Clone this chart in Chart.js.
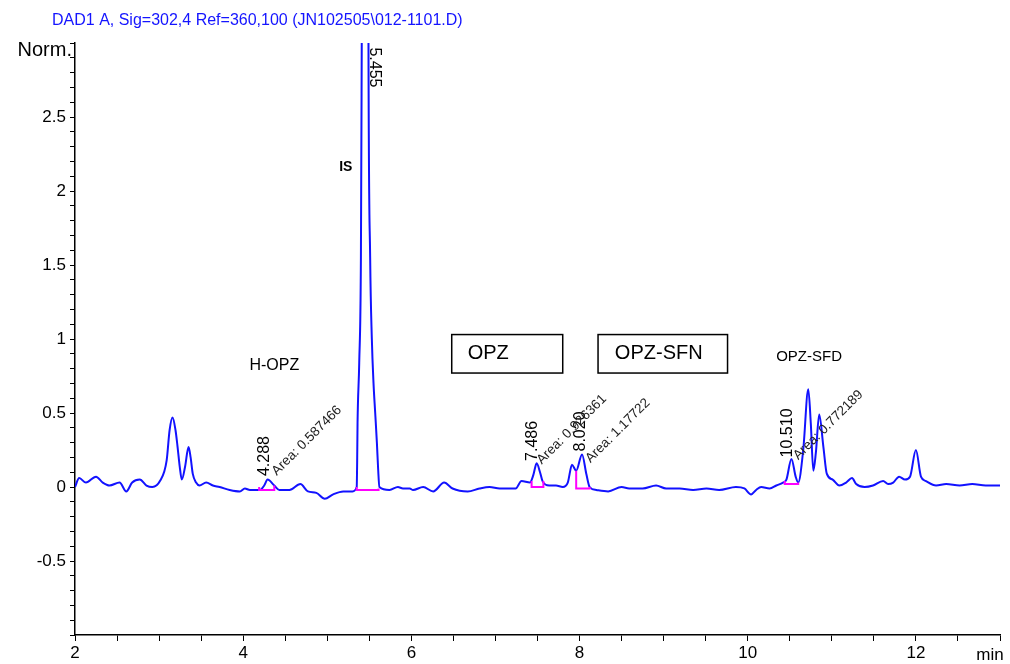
<!DOCTYPE html>
<html>
<head>
<title>DAD1 A chromatogram</title>
<script src="https://cdn.jsdelivr.net/npm/chart.js"></script>
<style>
  body { margin: 0; background: #fff; }
</style>
</head>
<body>

<canvas id="myChart" width="1010" height="664"></canvas>

<script>
  // retention time (min) and signal (Norm.)
  const traceTime = [2.00, 2.05, 2.13, 2.25, 2.33, 2.41, 2.53, 2.61, 2.68, 2.77, 2.85, 2.92, 3.01, 3.09, 3.125, 3.16, 3.195, 3.22, 3.245, 3.27,
    3.31, 3.35, 3.375, 3.40, 3.44, 3.48, 3.56, 3.64, 3.72, 3.84, 3.96, 4.02, 4.08, 4.20, 4.25, 4.29, 4.37, 4.43, 4.55, 4.68,
    4.77, 4.87, 4.97, 5.07, 5.19, 5.30, 5.35, 5.355, 5.36, 5.38, 5.40, 5.41, 5.43, 5.455, 5.48, 5.49, 5.51, 5.53, 5.55, 5.57,
    5.59, 5.605, 5.62, 5.74,
    5.84, 5.90, 5.98, 6.02, 6.14, 6.26, 6.39, 6.49, 6.67, 6.81, 6.93, 7.05, 7.16, 7.24, 7.31, 7.41, 7.45, 7.49, 7.53, 7.56,
    7.64, 7.72, 7.80, 7.86, 7.91, 7.96, 8.03, 8.08, 8.12, 8.20, 8.34, 8.50, 8.59, 8.75, 8.91, 9.03, 9.19, 9.35, 9.51, 9.66,
    9.86, 9.96, 10.04, 10.10, 10.16, 10.26, 10.34, 10.42, 10.46, 10.52, 10.57, 10.60, 10.66, 10.72, 10.75, 10.78, 10.81, 10.85, 10.90, 10.94,
    11.01, 11.09, 11.17, 11.24, 11.29, 11.39, 11.49, 11.61, 11.67, 11.73, 11.80, 11.87, 11.93, 12.00, 12.06, 12.12, 12.24, 12.36, 12.52, 12.67,
    12.83, 13.00];
  const traceSignal = [0.00, 0.06, 0.03, 0.07, 0.03, 0.01, 0.03, -0.03, 0.03, 0.05, 0.01, 0.00, 0.04, 0.18, 0.385, 0.47, 0.385, 0.27, 0.14, 0.05,
    0.14, 0.27, 0.20, 0.09, 0.03, 0.01, 0.03, 0.01, 0.00, -0.02, -0.03, -0.01, -0.02, -0.02, 0.01, 0.05, 0.01, -0.02, -0.02, 0.02,
    -0.03, -0.04, -0.08, -0.05, -0.03, -0.03, 0.00, 0.15, 0.43, 0.84, 1.55, 3.0, 6.5, 8.2, 6.5, 3.0, 1.55, 1.0, 0.7, 0.5,
    0.3, 0.12, 0.0, -0.02,
    0.00, -0.01, -0.01, -0.02, 0.00, -0.03, 0.03, -0.01, -0.03, -0.01, 0.00, -0.01, -0.01, -0.01, 0.04, 0.03, 0.08, 0.16, 0.10, 0.04,
    0.01, 0.01, 0.00, 0.03, 0.15, 0.11, 0.22, 0.09, 0.00, -0.02, -0.03, 0.00, -0.01, -0.01, 0.01, -0.01, -0.01, -0.02, -0.01, -0.02,
    0.00, -0.01, -0.05, -0.02, 0.00, -0.01, 0.01, 0.03, 0.05, 0.19, 0.07, 0.03, 0.25, 0.66, 0.43, 0.11, 0.23, 0.49, 0.27, 0.09,
    0.05, 0.01, 0.03, 0.06, 0.02, 0.00, 0.01, 0.04, 0.02, 0.03, 0.07, 0.05, 0.07, 0.25, 0.07, 0.04, 0.01, 0.02, 0.01, 0.02,
    0.01, 0.01];

  // integration baselines (magenta)
  const baseStart = [4.19, 5.35, 7.43, 7.96, 10.44];
  const baseEnd = [4.37, 5.61, 7.57, 8.12, 10.60];
  const baseLevel = [-0.02, -0.02, 0.0, -0.01, 0.02];
  const baseStartTop = [0.0, 0.0, 0.04, 0.11, 0.04];
  const baseEndTop = [0.01, -0.01, 0.04, 0.0, 0.03];

  const peakTimes = ['4.288', '5.455', '7.486', '8.020', '10.510'];
  const peakAreas = ['Area: 0.587466', '', 'Area: 0.926361', 'Area: 1.17722', 'Area: 0.772189'];
  const compoundNames = ['H-OPZ', 'IS', 'OPZ', 'OPZ-SFN', 'OPZ-SFD'];
  const titleText = 'DAD1 A, Sig=302,4 Ref=360,100 (JN102505\\012-1101.D)';

  const FONT = '"Liberation Sans", Arial, sans-serif';

  const datasets = [{
    data: traceTime.map((t, i) => ({ x: t, y: traceSignal[i] })),
    showLine: true,
    borderColor: '#1212ff',
    borderWidth: 2,
    pointRadius: 0,
    cubicInterpolationMode: 'monotone',
    order: 2
  }];
  baseStart.forEach((s, i) => {
    datasets.push({
      data: [
        { x: s, y: baseStartTop[i] }, { x: s, y: baseLevel[i] },
        { x: baseEnd[i], y: baseLevel[i] }, { x: baseEnd[i], y: baseEndTop[i] }
      ],
      showLine: true,
      borderColor: '#ff00ff',
      borderWidth: 2,
      pointRadius: 0,
      tension: 0,
      order: 1
    });
  });

  // label placement: [text, time, signal, rotation, font, align, baseline]
  const labels = [
    [peakTimes[0], 4.26, 0.074, -90, '16px', 'left', 'middle'],
    [peakTimes[1], 5.56, 2.97, 90, '16px', 'left', 'middle'],
    [peakTimes[2], 7.44, 0.176, -90, '16px', 'left', 'middle'],
    [peakTimes[3], 8.01, 0.24, -90, '16px', 'left', 'middle'],
    [peakTimes[4], 10.47, 0.20, -90, '16px', 'left', 'middle'],
    [peakAreas[0], 4.40, 0.075, -45, '13.5px', 'left', 'alphabetic'],
    [peakAreas[2], 7.55, 0.15, -45, '13.5px', 'left', 'alphabetic'],
    [peakAreas[3], 8.13, 0.16, -45, '13.5px', 'left', 'alphabetic'],
    [peakAreas[4], 10.60, 0.18, -45, '13.5px', 'left', 'alphabetic'],
    [compoundNames[0], 4.37, 0.82, 0, '16px', 'center', 'middle'],
    [compoundNames[1], 5.22, 2.16, 0, 'bold 14px', 'center', 'middle'],
    [compoundNames[2], 6.67, 0.90, 0, '20px', 'left', 'middle'],
    [compoundNames[3], 8.42, 0.90, 0, '20px', 'left', 'middle'],
    [compoundNames[4], 10.73, 0.88, 0, '15px', 'center', 'middle']
  ];
  const boxes = [[6.48, 7.80, 1.03, 0.77], [8.22, 9.76, 1.03, 0.77]];

  const overlay = {
    id: 'overlay',
    afterDraw(chart) {
      const { ctx, chartArea, scales } = chart;
      const sx = scales.x, sy = scales.y;
      ctx.save();
      ctx.fillStyle = '#1414ff';
      ctx.font = '16px ' + FONT;
      ctx.textAlign = 'left';
      ctx.textBaseline = 'middle';
      ctx.fillText(titleText, 52, 21);

      ctx.fillStyle = '#000';
      ctx.font = '20px ' + FONT;
      ctx.textAlign = 'right';
      ctx.fillText('Norm.', chartArea.left - 3, chartArea.top + 7);
      ctx.font = '17px ' + FONT;
      ctx.textAlign = 'center';
      ctx.fillText('min', chartArea.right - 10, chartArea.bottom + 20);

      ctx.strokeStyle = '#000';
      ctx.lineWidth = 1.5;
      boxes.forEach(b => {
        const x1 = sx.getPixelForValue(b[0]), x2 = sx.getPixelForValue(b[1]);
        const y1 = sy.getPixelForValue(b[2]), y2 = sy.getPixelForValue(b[3]);
        ctx.strokeRect(x1, y1, x2 - x1, y2 - y1);
      });

      labels.forEach(l => {
        ctx.save();
        ctx.translate(sx.getPixelForValue(l[1]), sy.getPixelForValue(l[2]));
        ctx.rotate(l[3] * Math.PI / 180);
        ctx.font = l[4] + ' ' + FONT;
        ctx.fillStyle = l[4] === '13.5px' ? '#222' : '#000';
        ctx.textAlign = l[5];
        ctx.textBaseline = l[6];
        ctx.fillText(l[0], 0, 0);
        ctx.restore();
      });
      ctx.restore();
    }
  };

  const ctx = document.getElementById('myChart').getContext('2d');
  const myChart = new Chart(ctx, {
    type: 'scatter',
    data: { datasets: datasets },
    options: {
      responsive: false,
      animation: false,
      layout: { padding: { top: 43, right: 10, left: 0, bottom: 0 } },
      plugins: { legend: { display: false }, tooltip: { enabled: false } },
      scales: {
        x: {
          type: 'linear', min: 2, max: 13,
          afterFit(s) { s.height = 29; },
          border: { color: '#000', width: 1.5 },
          grid: { drawOnChartArea: false, color: '#000', tickLength: 6 },
          ticks: {
            stepSize: 0.5, autoSkip: false, maxRotation: 0, maxTicksLimit: 100,
            color: '#000', padding: 2, font: { size: 17, family: FONT },
            callback: v => {
              const k = Math.round(v * 2);
              return (k % 4 === 0 && v < 13) ? String(k / 2) : '';
            }
          }
        },
        y: {
          min: -1, max: 3,
          afterFit(s) { s.width = 75; },
          border: { color: '#000', width: 1.5 },
          grid: { drawOnChartArea: false, color: '#000', tickLength: 5 },
          ticks: {
            stepSize: 0.1, autoSkip: false, maxTicksLimit: 100,
            color: '#000', padding: 4, font: { size: 17, family: FONT },
            callback: v => {
              const k = Math.round(v * 10);
              return (k % 5 === 0 && k > -10 && k < 30) ? String(k / 10) : '';
            }
          }
        }
      }
    },
    plugins: [overlay]
  });
</script>

</body>
</html>
